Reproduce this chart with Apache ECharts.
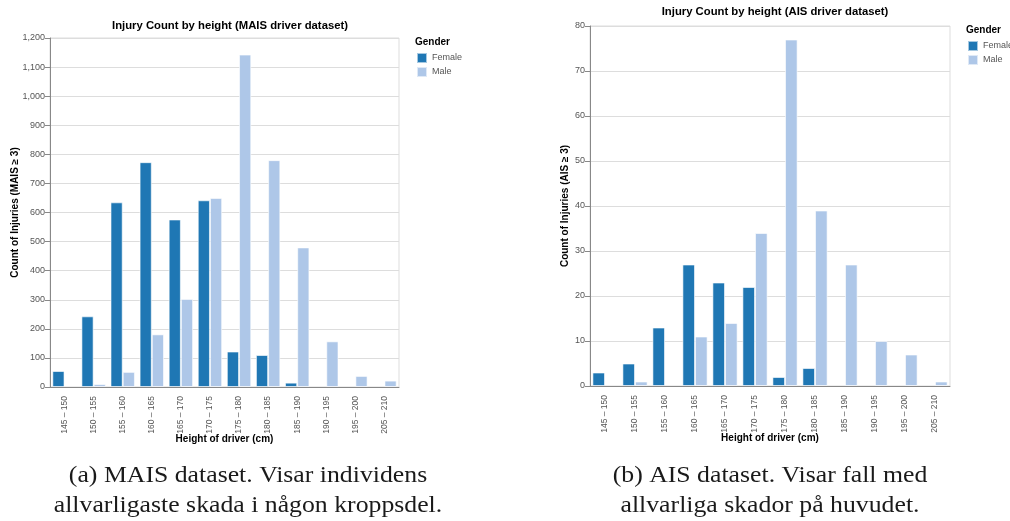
<!DOCTYPE html>
<html>
<head>
<meta charset="utf-8">
<script src="https://cdn.jsdelivr.net/npm/echarts@6/dist/echarts.min.js"></script>
<style>
html,body{margin:0;padding:0;background:#fff;}
#c{width:1010px;height:521px;}
</style>
</head>
<body>
<div id="c"></div>
<script>
const categories = ['145 – 150','150 – 155','155 – 160','160 – 165','165 – 170','170 – 175','175 – 180','180 – 185','185 – 190','190 – 195','195 – 200','205 – 210'];
const maisFemale = [55, 243, 635, 773, 576, 642, 122, 110, 15, null, null, null];
const maisMale   = [null, 10, 52, 181, 303, 650, 1143, 780, 480, 157, 38, 22];
const aisFemale  = [3, 5, 13, 27, 23, 22, 2, 4, null, null, null, null];
const aisMale    = [null, 1, null, 11, 14, 34, 77, 39, 27, 10, 7, 1];
const legendNames = ['Female', 'Male'];
const colors = ['#1f77b4', '#aec7e8'];
const captionA = ['(a) MAIS dataset. Visar individens', 'allvarligaste skada i någon kroppsdel.'];
const captionB = ['(b) AIS dataset. Visar fall med', 'allvarliga skador på huvudet.'];

const chart = echarts.init(document.getElementById('c'));
const fmt = v => v.toLocaleString('en-US');
const font = 'Arial, "Liberation Sans", sans-serif';
const serif = '23px "Liberation Serif", "DejaVu Serif", serif';

function xAxis(gi){
  return {
    type:'category', gridIndex:gi, data:categories,
    name:'Height of driver (cm)', nameLocation:'middle', nameGap:47, nameMoveOverlap:false,
    nameTextStyle:{fontFamily:font,fontSize:10,fontWeight:'bold',color:'#000'},
    axisLine:{lineStyle:{color:'#888'}},
    axisTick:{alignWithLabel:true,length:6,lineStyle:{color:'#888'}},
    axisLabel:{rotate:90,fontFamily:font,fontSize:8.5,color:'#555',margin:9,interval:0},
    splitLine:{show:false}
  };
}
function yAxis(gi, max, interval, name, gap){
  return {
    type:'value', gridIndex:gi, min:0, max:max, interval:interval,
    name:name, nameLocation:'middle', nameGap:gap, nameRotate:90, nameMoveOverlap:false,
    nameTextStyle:{fontFamily:font,fontSize:10,fontWeight:'bold',color:'#000'},
    axisLine:{show:true,lineStyle:{color:'#888'}},
    axisTick:{show:true,length:5,lineStyle:{color:'#888'}},
    axisLabel:{fontFamily:font,fontSize:9,color:'#555',margin:5,formatter:fmt},
    splitLine:{lineStyle:{color:'#ddd'}}
  };
}
function bar(name, data, gi, ci){
  return {
    type:'bar', name:name, data:data, xAxisIndex:gi, yAxisIndex:gi,
    barGap:'0%', barCategoryGap:'16%',
    itemStyle:{color:colors[ci], borderColor:'rgba(255,255,255,0.6)', borderWidth:1},
    emphasis:{disabled:true}
  };
}
function captionLines(lines, cx, y0, sx){
  return lines.map((t, i) => ({
    type:'text', x:cx, y:y0 + i*30, scaleX:sx, silent:true,
    style:{text:t, font:serif, fill:'#1a1a1a', textAlign:'center', textVerticalAlign:'middle', align:'center', verticalAlign:'middle'}
  }));
}

chart.setOption({
  animation:false,
  color:colors,
  title:[
    {text:'Injury Count by height (MAIS driver dataset)', left:225, top:15, textAlign:'center',
     textStyle:{fontFamily:font,fontSize:11.3,fontWeight:'bold',color:'#000'}},
    {text:'Injury Count by height (AIS driver dataset)', left:770, top:1, textAlign:'center',
     textStyle:{fontFamily:font,fontSize:11.3,fontWeight:'bold',color:'#000'}},
    {text:'Gender', left:410, top:32, textStyle:{fontFamily:font,fontSize:10,fontWeight:'bold',color:'#000'}},
    {text:'Gender', left:961, top:20, textStyle:{fontFamily:font,fontSize:10,fontWeight:'bold',color:'#000'}}
  ],
  legend:[
    {data:legendNames, orient:'vertical', left:411, top:47, itemWidth:10, itemHeight:10, itemGap:2, icon:'rect',
     textStyle:{fontFamily:font,fontSize:9,color:'#555'}, selectedMode:false},
    {data:legendNames, orient:'vertical', left:962, top:35, itemWidth:10, itemHeight:10, itemGap:2, icon:'rect',
     textStyle:{fontFamily:font,fontSize:9,color:'#555'}, selectedMode:false}
  ],
  graphic: captionLines(captionA, 248, 476, 1.12).concat(captionLines(captionB, 770, 476, 1.12)),
  grid:[
    {left:50, top:38, width:349, height:349, show:true, borderColor:'#ddd', borderWidth:1, backgroundColor:'transparent'},
    {left:590, top:26, width:360, height:360, show:true, borderColor:'#ddd', borderWidth:1, backgroundColor:'transparent'}
  ],
  xAxis:[xAxis(0), xAxis(1)],
  yAxis:[yAxis(0,1200,100,'Count of Injuries (MAIS ≥ 3)',30), yAxis(1,80,10,'Count of Injuries (AIS ≥ 3)',20)],
  series:[
    bar('Female', maisFemale, 0, 0),
    bar('Male', maisMale, 0, 1),
    bar('Female', aisFemale, 1, 0),
    bar('Male', aisMale, 1, 1)
  ]
});
</script>
</body>
</html>
